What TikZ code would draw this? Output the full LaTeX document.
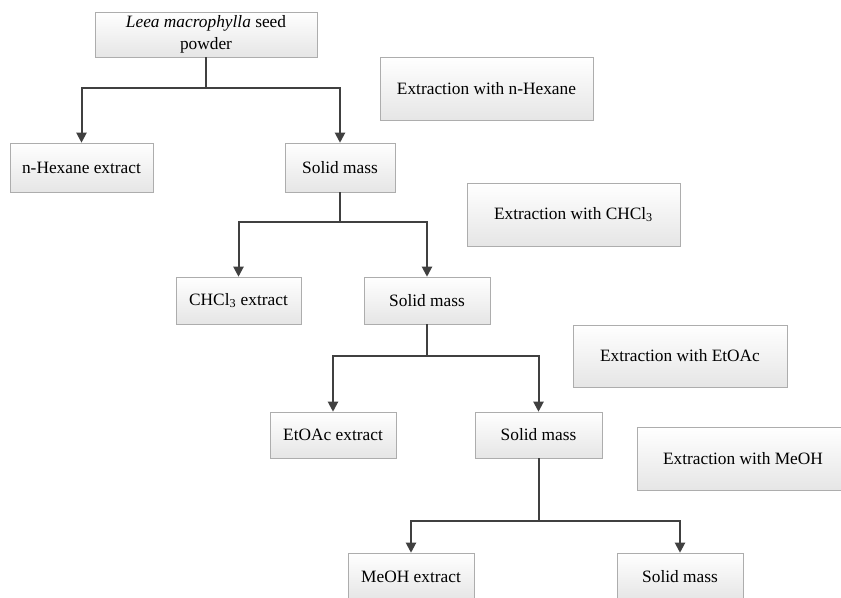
\documentclass[tikz,border=0pt]{standalone}
\usepackage{fontspec}
\setmainfont{Liberation Serif}
\usepackage{xcolor}
\colorlet{colorLine}{black!75}
\colorlet{colorBorder}{black!32}
\colorlet{colorShade}{black!10}
\usetikzlibrary{arrows.meta, shadows}
\tikzset{
  stepbox/.style={draw=colorBorder, top color=white, bottom color=colorShade, inner sep=0pt, align=center,
    font=\fontsize{13}{16.5}\selectfont, drop shadow={shadow xshift=0.9pt, shadow yshift=-0.9pt, opacity=0.22}},
  boxsize/.style 2 args={minimum width=0.75pt*#1, minimum height=0.75pt*#2},
  flow/.style={-{Triangle[width=7.5pt,length=7.5pt]}, colorLine, line width=1.5pt}
}

\begin{document}
\begin{tikzpicture}[x=0.75pt, y=-0.75pt]
\useasboundingbox (0,0) rectangle (841,598);
\clip (0,0) rectangle (841,598);
\node[stepbox, boxsize={222}{45}] (seed) at (206,34.5) {\textit{Leea macrophylla} seed\\powder};
\node[stepbox, boxsize={143}{49}] (hexext) at (81.5,167.5) {n-Hexane extract};
\node[stepbox, boxsize={110}{49}] (solid1) at (340,167.5) {Solid mass};
\node[stepbox, boxsize={213}{63}] (withhex) at (486.5,88.5) {Extraction with n-Hexane};
\node[stepbox, boxsize={125}{47}] (chclext) at (238.5,300.5) {CHCl\textsubscript{3} extract};
\node[stepbox, boxsize={126}{47}] (solid2) at (427,300.5) {Solid mass};
\node[stepbox, boxsize={213}{63}] (withchcl) at (573.5,214.5) {Extraction with CHCl\textsubscript{3}};
\node[stepbox, boxsize={126}{46}] (etoacext) at (333,435) {EtOAc extract};
\node[stepbox, boxsize={127}{46}] (solid3) at (538.5,435) {Solid mass};
\node[stepbox, boxsize={214}{62}] (withetoac) at (680,356) {Extraction with EtOAc};
\node[stepbox, boxsize={126}{47}] (meohext) at (411,576.5) {MeOH extract};
\node[stepbox, boxsize={126}{47}] (solid4) at (680,576.5) {Solid mass};
\node[stepbox, boxsize={212}{63}] (withmeoh) at (743,458.5) {Extraction with MeOH};
\coordinate (j0) at (206,88);
\coordinate (j1) at (340,222);
\coordinate (j2) at (427,356);
\coordinate (j3) at (538.5,521);
\draw[flow, -] (seed) -- (j0);
\draw[flow] (j0) -| (hexext);
\draw[flow] (j0) -| (solid1);
\draw[flow, -] (solid1) -- (j1);
\draw[flow] (j1) -| (chclext);
\draw[flow] (j1) -| (solid2);
\draw[flow, -] (solid2) -- (j2);
\draw[flow] (j2) -| (etoacext);
\draw[flow] (j2) -| (solid3);
\draw[flow, -] (solid3) -- (j3);
\draw[flow] (j3) -| (meohext);
\draw[flow] (j3) -| (solid4);
\end{tikzpicture}
\end{document}
